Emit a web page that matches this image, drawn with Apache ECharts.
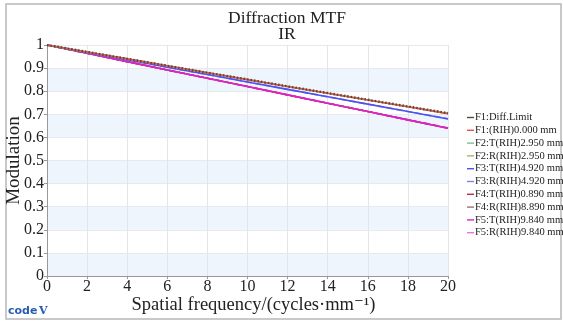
<!DOCTYPE html>
<html><head><meta charset="utf-8">
<script src="https://cdn.jsdelivr.net/npm/echarts@6/dist/echarts.min.js"></script>
<style>html,body{margin:0;padding:0;background:#fff}#c{width:563px;height:321px}</style>
</head><body><div id="c"></div>
<script>
const freq = [0,2,4,6,8,10,12,14,16,18,20];
const diffLimit = [1,0.970,0.940,0.910,0.880,0.851,0.821,0.792,0.763,0.734,0.705];
const f1 = [1,0.970,0.940,0.910,0.880,0.850,0.820,0.791,0.762,0.733,0.703];
const f2T = [1,0.970,0.940,0.910,0.880,0.850,0.820,0.791,0.762,0.733,0.703];
const f2R = [1,0.970,0.940,0.910,0.880,0.850,0.820,0.791,0.762,0.733,0.704];
const f3T = [1,0.968,0.936,0.904,0.872,0.840,0.808,0.776,0.744,0.712,0.680];
const f3R = [1,0.968,0.936,0.904,0.872,0.840,0.808,0.776,0.744,0.712,0.681];
const f4T = [1,0.964,0.928,0.892,0.856,0.820,0.784,0.748,0.712,0.676,0.640];
const f4R = [1,0.964,0.928,0.892,0.856,0.820,0.784,0.748,0.712,0.676,0.641];
const f5T = [1,0.964,0.928,0.892,0.856,0.820,0.784,0.748,0.712,0.676,0.640];
const f5R = [1,0.964,0.928,0.892,0.856,0.820,0.784,0.748,0.712,0.676,0.641];
const names = ['F1:Diff.Limit','F1:(RIH)0.000 mm','F2:T(RIH)2.950 mm','F2:R(RIH)2.950 mm','F3:T(RIH)4.920 mm','F3:R(RIH)4.920 mm','F4:T(RIH)0.890 mm','F4:R(RIH)8.890 mm','F5:T(RIH)9.840 mm','F5:R(RIH)9.840 mm'];
const dataSets = [diffLimit,f1,f2T,f2R,f3T,f3R,f4T,f4R,f5T,f5R];
const colors = ['#5a4a3a','#e8504a','#7fbf8f','#b0b070','#5050f0','#8080f0','#b03050','#a07070','#e020d0','#f070e0'];
const types = ['dashed','solid','solid','dashed','solid','dashed','solid','dashed','solid','dashed'];
const yTicks = [0,0.1,0.2,0.3,0.4,0.5,0.6,0.7,0.8,0.9,1];
const xTicks = [0,2,4,6,8,10,12,14,16,18,20];

const serif = '"Liberation Serif","DejaVu Serif",serif';
const series = [];
for (let i = dataSets.length - 1; i >= 0; i--) {
  series.push({
    name: names[i], type: 'line', symbol: 'none', z: i === 8 ? 15 : 20 - i,
    data: freq.map((f, k) => [f, dataSets[i][k]]),
    lineStyle: { color: colors[i], width: i === 0 ? 2.4 : 1.6, type: i === 0 ? [1.5, 2] : types[i] },
    itemStyle: { color: colors[i] }
  });
}
const chart = echarts.init(document.getElementById('c'), null, {renderer: 'canvas'});
chart.setOption({
  animation: false,
  backgroundColor: '#fff',
  title: {
    text: 'Diffraction MTF\nIR', left: 282, top: 5, textAlign: 'center',
    textStyle: { fontFamily: serif, fontWeight: 'normal', fontSize: 17.5, color: '#222', lineHeight: 16 }
  },
  legend: {
    orient: 'vertical', left: 462, top: 107, itemGap: 1.8, itemWidth: 7, itemHeight: 10.5,
    icon: 'path://M0,4L10,4L10,6L0,6Z',
    data: names,
    textStyle: { fontFamily: serif, fontSize: 10.5, color: '#222', padding: [0,0,0,-4] }
  },
  grid: { left: 47, right: 115, top: 45, bottom: 45, outerBoundsMode: 'none', containLabel: false },
  xAxis: {
    type: 'value', min: 0, max: 20, interval: 2,
    name: 'Spatial frequency/(cycles·mm⁻¹)', nameLocation: 'middle', nameGap: 20, nameMoveOverlap: false,
    nameTextStyle: { fontFamily: serif, fontSize: 18.5, color: '#222', padding: [0,0,0,12] },
    axisLine: { lineStyle: { color: '#999' } },
    axisTick: { show: true, length: 3, lineStyle: { color: '#999' } },
    axisLabel: { fontFamily: serif, fontSize: 16, color: '#222', margin: 3 },
    splitLine: { show: true, lineStyle: { color: '#e2e6ea' } }
  },
  yAxis: {
    type: 'value', min: 0, max: 1, interval: 0.1,
    name: 'Modulation', nameLocation: 'middle', nameGap: 23, nameMoveOverlap: false,
    nameTextStyle: { fontFamily: serif, fontSize: 19, color: '#222' },
    axisLine: { show: true, lineStyle: { color: '#999' } },
    axisTick: { show: true, length: 3, lineStyle: { color: '#999' } },
    axisLabel: { fontFamily: serif, fontSize: 16, color: '#222', margin: 3,
      formatter: v => String(Math.round(v * 10) / 10) },
    splitLine: { show: true, lineStyle: { color: '#e6eaee' } },
    splitArea: { show: true, areaStyle: { color: ['#eef5fc', '#ffffff'] } }
  },
  graphic: [
    { type: 'rect', shape: { x: 6, y: 4, width: 555, height: 315 }, silent: true,
      style: { fill: 'none', stroke: '#b8b8b8', lineWidth: 1.5 } },
    { type: 'text', left: 8, top: 306, silent: true,
      style: { text: 'code', fill: '#2a5db0', font: 'bold 11px "DejaVu Sans"' } },
    { type: 'text', left: 39, top: 306, silent: true,
      style: { text: 'V', fill: '#2a5db0', font: 'bold 11px "DejaVu Serif"' } }
  ],
  series: series
});
</script></body></html>
